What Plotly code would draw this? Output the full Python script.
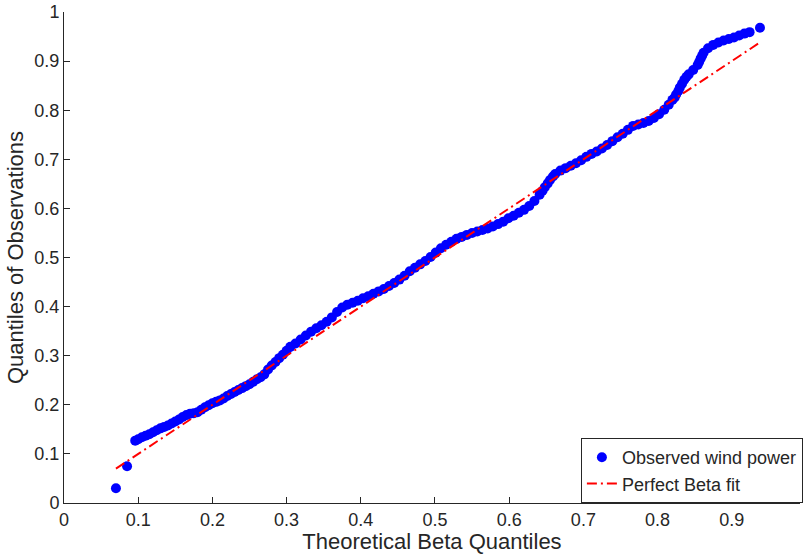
import plotly.graph_objects as go

# Observed wind power quantiles (theoretical x, observed y)
obs_x = [0.070, 0.085,
         0.096, 0.100, 0.105, 0.110, 0.115, 0.120, 0.125, 0.130, 0.135, 0.140,
         0.145, 0.150, 0.155, 0.160, 0.165, 0.170, 0.175, 0.180, 0.185, 0.190,
         0.195, 0.200, 0.205, 0.210, 0.215, 0.220, 0.225, 0.230, 0.235, 0.240,
         0.245, 0.250, 0.255, 0.260, 0.265, 0.270, 0.275, 0.280, 0.285, 0.290,
         0.295, 0.300, 0.305, 0.312, 0.319, 0.326, 0.333, 0.340, 0.347, 0.354,
         0.361, 0.368, 0.375, 0.382, 0.389, 0.396, 0.403, 0.410, 0.417, 0.424,
         0.431, 0.438, 0.445, 0.452, 0.459, 0.466, 0.473, 0.480, 0.487, 0.494,
         0.501, 0.508, 0.515, 0.522, 0.529, 0.536, 0.543, 0.550, 0.557, 0.564,
         0.571, 0.578, 0.585, 0.592, 0.599, 0.606, 0.613, 0.620, 0.627, 0.634,
         0.641, 0.645, 0.648, 0.652, 0.655, 0.659, 0.662, 0.669, 0.676, 0.683,
         0.690, 0.697, 0.704, 0.711, 0.718, 0.725, 0.732, 0.739, 0.746, 0.753,
         0.760, 0.767, 0.774, 0.781, 0.788, 0.795, 0.802, 0.809, 0.815, 0.820,
         0.823, 0.825, 0.828, 0.830, 0.833, 0.836, 0.839, 0.842, 0.848, 0.854,
         0.856, 0.858, 0.860, 0.862, 0.868, 0.875, 0.882, 0.889, 0.896, 0.903,
         0.910, 0.917, 0.924, 0.938]
obs_y = [0.030, 0.075,
         0.127, 0.130, 0.134, 0.137, 0.140, 0.144, 0.148, 0.152, 0.155, 0.158,
         0.162, 0.166, 0.170, 0.175, 0.179, 0.182, 0.183, 0.185, 0.190, 0.195,
         0.199, 0.203, 0.206, 0.209, 0.213, 0.218, 0.222, 0.226, 0.230, 0.234,
         0.238, 0.242, 0.247, 0.252, 0.256, 0.262, 0.272, 0.280, 0.287, 0.295,
         0.302, 0.310, 0.318, 0.325, 0.333, 0.341, 0.349, 0.356, 0.362, 0.369,
         0.378, 0.389, 0.398, 0.404, 0.408, 0.412, 0.417, 0.421, 0.426, 0.431,
         0.436, 0.442, 0.448, 0.455, 0.463, 0.472, 0.479, 0.486, 0.493, 0.501,
         0.510, 0.519, 0.526, 0.532, 0.538, 0.542, 0.546, 0.550, 0.553, 0.556,
         0.559, 0.563, 0.568, 0.573, 0.580, 0.585, 0.591, 0.597, 0.605, 0.615,
         0.628, 0.636, 0.643, 0.651, 0.658, 0.665, 0.670, 0.677, 0.682, 0.687,
         0.692, 0.698, 0.705, 0.711, 0.716, 0.722, 0.729, 0.737, 0.745, 0.752,
         0.760, 0.768, 0.771, 0.774, 0.778, 0.784, 0.792, 0.801, 0.811, 0.821,
         0.826, 0.832, 0.839, 0.846, 0.854, 0.862, 0.868, 0.873, 0.882, 0.892,
         0.898, 0.905, 0.911, 0.917, 0.926, 0.933, 0.938, 0.942, 0.945, 0.948,
         0.952, 0.956, 0.959, 0.968]

# Perfect Beta fit reference line endpoints
fit_x = [0.070, 0.938]
fit_y = [0.070, 0.938]

x_ticks = [0, 0.1, 0.2, 0.3, 0.4, 0.5, 0.6, 0.7, 0.8, 0.9, 1]
x_tick_labels = ["0", "0.1", "0.2", "0.3", "0.4", "0.5", "0.6", "0.7", "0.8", "0.9", "1"]
y_ticks = [0, 0.1, 0.2, 0.3, 0.4, 0.5, 0.6, 0.7, 0.8, 0.9, 1]
y_tick_labels = ["0", "0.1", "0.2", "0.3", "0.4", "0.5", "0.6", "0.7", "0.8", "0.9", "1"]

FONT = "Liberation Sans, Arial, sans-serif"
TXT = "#262626"

fig = go.Figure()
fig.add_trace(go.Scatter(
    x=obs_x, y=obs_y, mode="markers", name="Observed wind power",
    marker=dict(color="#0000ff", size=10, line=dict(width=0)),
))
fig.add_trace(go.Scatter(
    x=fit_x, y=fit_y, mode="lines", name="Perfect Beta fit",
    line=dict(color="#ff0000", width=2, dash="10px,4px,2px,4px"),
))

axis_common = dict(
    showline=True, linecolor="#262626", linewidth=1,
    ticks="inside", ticklen=6, tickcolor="#262626", tickwidth=1,
    showgrid=False, zeroline=False, mirror=False,
    tickfont=dict(family=FONT, size=18, color=TXT),
)

fig.update_layout(
    width=803, height=554,
    margin=dict(l=64, r=0, t=12, b=51),
    paper_bgcolor="white", plot_bgcolor="white",
    font=dict(family=FONT, size=18, color=TXT),
    xaxis=dict(
        range=[0, 739 / 745], tickvals=x_ticks, ticktext=x_tick_labels,
        title=dict(text="Theoretical Beta Quantiles", font=dict(family=FONT, size=22, color=TXT), standoff=0),
        **axis_common,
    ),
    yaxis=dict(
        range=[0, 1], tickvals=y_ticks, ticktext=y_tick_labels,
        title=dict(text="Quantiles of Observations", font=dict(family=FONT, size=22, color=TXT), standoff=4),
        **axis_common,
    ),
    legend=dict(
        x=(583 - 64) / 739, xanchor="left", y=0.0, yanchor="bottom",
        bgcolor="white", bordercolor="#262626", borderwidth=1,
        font=dict(family=FONT, size=18, color=TXT),
        tracegroupgap=0, itemwidth=30,
    ),
    showlegend=True,
)

fig.write_html("out.html")
